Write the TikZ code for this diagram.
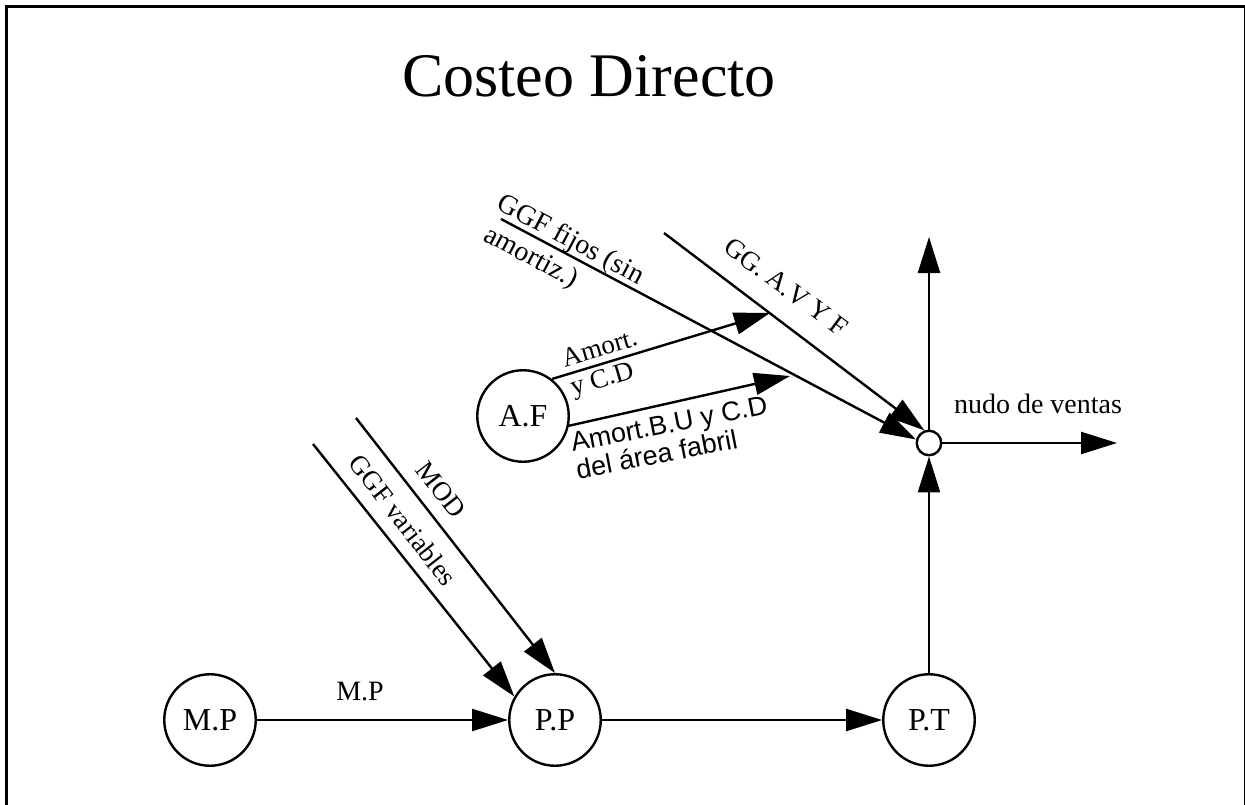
\documentclass[tikz,border=0pt]{standalone}
\usepackage{fontspec}
\setmainfont{Liberation Serif}
\newfontfamily\labelsans{Liberation Sans}
\usetikzlibrary{arrows.meta}

\begin{document}
\begin{tikzpicture}[x=1pt,y=-1pt,
  every node/.style={inner sep=0pt},
  stage/.style={circle,draw,line width=2.4pt,minimum size=91.5pt,
    font=\fontsize{32}{36}\selectfont},
  junction/.style={circle,draw,line width=2.4pt,minimum size=24.5pt},
  flow/.style={line width=2.4pt,-{Triangle[length=36pt,width=22pt]}},
  lbl/.style={font=\fontsize{28}{31}\selectfont},
  slantlbl/.style={font=\fontsize{27}{30}\selectfont},
  sanslbl/.style={font=\labelsans\fontsize{27}{28}\selectfont},
  heading/.style={font=\fontsize{62}{70}\selectfont},
  frame/.style={line width=3pt}]

\useasboundingbox (0,0) rectangle (1245,805);

% page frame, open at the bottom
\draw[frame] (6.5,805) -- (6.5,6.5) -- (1245,6.5) -- (1245,805);

% title
\node[heading,anchor=base] (ttl) at (589,97) {Costeo Directo};

% cost centres
\node[stage] (mp) at (210,720) {M.P};
\node[stage] (pp) at (555,720) {P.P};
\node[stage] (pt) at (929,720) {P.T};
\node[stage] (af) at (523,416) {A.F};
\node[junction] (nv) at (929,443) {};

% free ends of the incoming and outgoing flows
\coordinate (up)   at (929,237);
\coordinate (out)  at (1117,443);
\coordinate (modS) at (356,418);
\coordinate (ggvS) at (313,444);
\coordinate (ggfS) at (501,219);
\coordinate (gavS) at (664,233);
\coordinate (amA)  at (770,313);
\coordinate (amB)  at (790,376);

% flows
\draw[flow] (mp) -- (pp);
\draw[flow] (pp) -- (pt);
\draw[flow] (pt) -- (nv);
\draw[flow] (nv) -- (up);
\draw[flow] (nv) -- (out);
\draw[flow] (modS) -- (pp.north);
\draw[flow] (ggvS) -- (pp.150);
\draw[flow] (ggfS) -- (nv.165);
\draw[flow] (gavS) -- (nv.110);
\draw[flow] (af.52) -- (amA);
\draw[flow] (af.-12) -- (amB);

% flow labels
\node[lbl,anchor=base] (lmp) at (360,700) {M.P};
\node[lbl,anchor=base] (lnv) at (1038,413) {nudo de ventas};
\node[slantlbl,rotate=-36.6] (lgav) at (786,287) {GG. A.V Y F};
\node[lbl,rotate=-28,anchor=north west,align=left] (lggf) at (505,191)
  {GGF fijos (sin\\[3pt]\hspace*{3pt}amortiz.)};
\node[slantlbl,rotate=16.7,anchor=north west,align=left] (lama) at (559.5,350)
  {Amort.\\y C.D};
\node[sanslbl,rotate=11,anchor=north west,align=left] (lamb) at (569,433)
  {Amort.B.U y C.D\\del área fabril};
\node[slantlbl,rotate=-52] (lmod) at (441,490) {MOD};
\node[slantlbl,rotate=-52] (lggv) at (403,520) {GGF variables};

\end{tikzpicture}
\end{document}
